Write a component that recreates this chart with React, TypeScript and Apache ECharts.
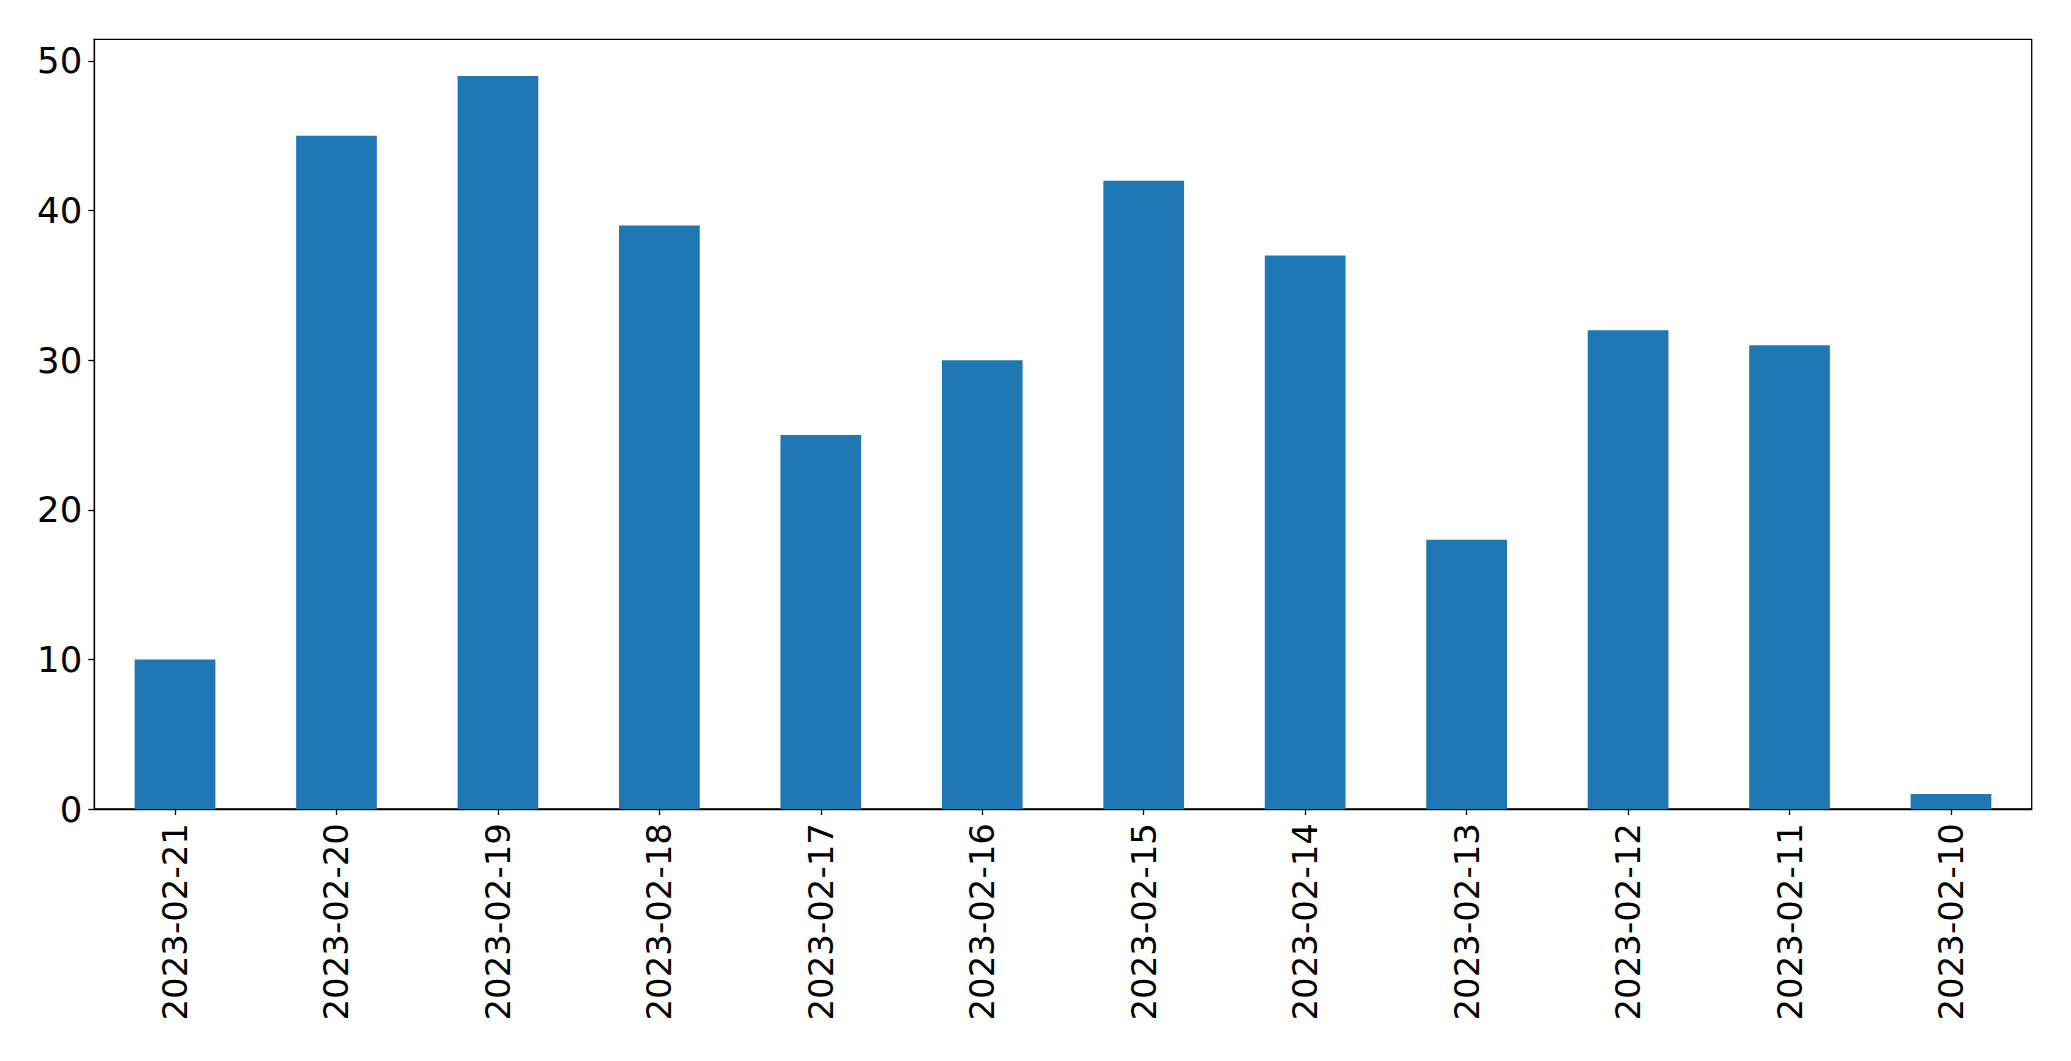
import React, { useEffect, useRef } from "react";
import * as echarts from "echarts";

const categories = [
  "2023-02-21", "2023-02-20", "2023-02-19", "2023-02-18", "2023-02-17", "2023-02-16",
  "2023-02-15", "2023-02-14", "2023-02-13", "2023-02-12", "2023-02-11", "2023-02-10",
];
const counts = [10, 45, 49, 39, 25, 30, 42, 37, 18, 32, 31, 1];
const yTicks = [0, 10, 20, 30, 40, 50];

export default function App() {
  const ref = useRef<HTMLDivElement>(null);
  useEffect(() => {
    if (!ref.current) return;
    const chart = echarts.init(ref.current, null, { renderer: "svg" });
    const font = "DejaVu Sans";
    const yMax = Math.max(...counts) * 1.05;
    chart.setOption({
      animation: false,
      backgroundColor: "#ffffff",
      grid: {
        left: 94.3,
        top: 39.3,
        right: 39.3,
        bottom: 1061 - 809,
        show: true,
        borderColor: "#000000",
        borderWidth: 1.3,
        backgroundColor: "transparent",
      },
      xAxis: {
        type: "category",
        data: categories,
        boundaryGap: true,
        axisLine: { show: true, lineStyle: { color: "#000", width: 1.3 } },
        axisTick: { show: true, alignWithLabel: true, length: 6, lineStyle: { color: "#000", width: 1.3 } },
        axisLabel: {
          rotate: 90,
          interval: 0,
          margin: 14,
          color: "#000",
          fontFamily: font,
          fontSize: 34,
        },
        splitLine: { show: false },
      },
      yAxis: {
        type: "value",
        min: 0,
        max: yMax,
        interval: 10,
        axisLine: { show: true, lineStyle: { color: "#000", width: 1.3 } },
        axisTick: { show: true, length: 6, customValues: yTicks, lineStyle: { color: "#000", width: 1.3 } },
        axisLabel: {
          customValues: yTicks,
          margin: 12,
          color: "#000",
          fontFamily: font,
          fontSize: 35.5,
        },
        splitLine: { show: false },
      },
      series: [
        {
          type: "bar",
          data: counts,
          barWidth: "50%",
          itemStyle: { color: "#1f77b4" },
        },
      ],
    });
    return () => chart.dispose();
  }, []);
  return (
    <div
      ref={ref}
      style={{ position: "fixed", left: 0, top: 0, width: 2071, height: 1061, background: "#fff" }}
    />
  );
}
